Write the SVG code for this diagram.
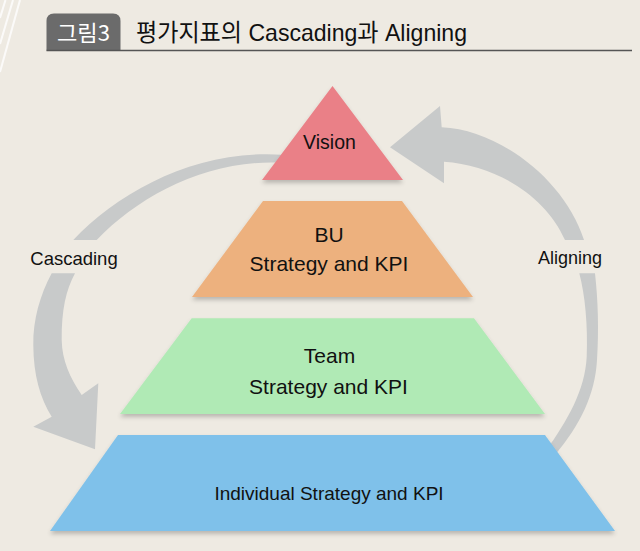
<svg xmlns="http://www.w3.org/2000/svg" width="640" height="551" viewBox="0 0 640 551">
  <defs>
    <filter id="shadow" x="-10%" y="-10%" width="120%" height="130%">
      <feDropShadow dx="0" dy="3" stdDeviation="2" flood-color="#000" flood-opacity="0.22"/>
    </filter>
  </defs>
  <style>
    .lbl { font-family: "Liberation Sans", Arial, sans-serif; fill: #111; text-anchor: middle; }
    .arrow { fill: #c8caca; }
    .deco { stroke: #ffffff; stroke-width: 2; opacity: 0.8; }
  </style>
  <rect x="0" y="0" width="640" height="551" fill="#eeeae2"/>

  <!-- decorative corner lines -->
  <g id="deco">
    <line class="deco" x1="20" y1="0" x2="0" y2="72"/>
    <line class="deco" x1="13" y1="0" x2="0" y2="44"/>
    <line class="deco" x1="5.5" y1="0" x2="0" y2="18"/>
  </g>

  <!-- header -->
  <g id="header">
    <path d="M46.5,50.5 V21 Q46.5,13.5 54,13.5 H113 Q120.5,13.5 120.5,21 V50.5 Z" fill="#6b6b6b"/>
    <text x="83.5" y="41" font-family="'Noto Sans CJK KR', sans-serif" font-size="22" fill="#ffffff" text-anchor="middle" textLength="53" lengthAdjust="spacingAndGlyphs">그림3</text>
    <text x="136" y="41" font-family="'Liberation Sans', 'Noto Sans CJK KR', sans-serif" font-size="24" fill="#111" textLength="331" lengthAdjust="spacingAndGlyphs">평가지표의 Cascading과 Aligning</text>
    <line x1="46.5" y1="50.5" x2="632" y2="50.5" stroke="#555" stroke-width="1.6"/>
  </g>

  <!-- connectors -->
  <g id="connectors">
    <g id="cascading">
      <path class="arrow" d="M285,155 C200,148 120,190 73.3,240 L96.7,240 C140,195 210,158 285,163 Z"/>
      <path class="arrow" d="M51.7,273.3 C40,295 33,320 33.3,345 C33.5,375 40,398 51.7,416.7 L33.3,426.7 L95,449.3 L98.3,383.3 L81.7,395 C70,378 62,360 61.7,340 C61.5,310 66,290 75,273.3 Z"/>
      <text class="lbl" x="74" y="265" font-size="18.5">Cascading</text>
    </g>
    <g id="aligning">
      <path class="arrow" d="M390,147.3 L440,106 L441.7,127.3 C500,130 565,180 584,240 L565,240 C545,195 495,165 444,161.7 L444,183.3 Z"/>
      <path class="arrow" d="M595,273.3 C598,300 599,330 597,360 C595,395 580,425 555,455 L545,452 C568,420 585,390 586.7,356.7 C588,325 585,295 579.3,273.3 Z"/>
      <text class="lbl" x="570" y="264" font-size="18">Aligning</text>
    </g>
  </g>

  <!-- pyramid nodes -->
  <g id="vision">
    <polygon points="332.5,86 403,180 262,180" fill="#ea8087" filter="url(#shadow)"/>
    <text class="lbl" x="329.5" y="149.3" font-size="19.5">Vision</text>
  </g>
  <g id="bu">
    <polygon points="263,201 402,201 473,297 192,297" fill="#edb17e" filter="url(#shadow)"/>
    <text class="lbl" x="329" y="241.7" font-size="21">BU</text>
    <text class="lbl" x="329" y="270.7" font-size="21">Strategy and KPI</text>
  </g>
  <g id="team">
    <polygon points="191.7,318.3 474,318.3 545,414 120,414" fill="#b0eab5" filter="url(#shadow)"/>
    <text class="lbl" x="329.5" y="363.3" font-size="21">Team</text>
    <text class="lbl" x="328.5" y="394" font-size="21">Strategy and KPI</text>
  </g>
  <g id="individual">
    <polygon points="118,435 545,435 615,531 50,531" fill="#7fc1ea" filter="url(#shadow)"/>
    <text class="lbl" x="329" y="500" font-size="19">Individual Strategy and KPI</text>
  </g>
</svg>
